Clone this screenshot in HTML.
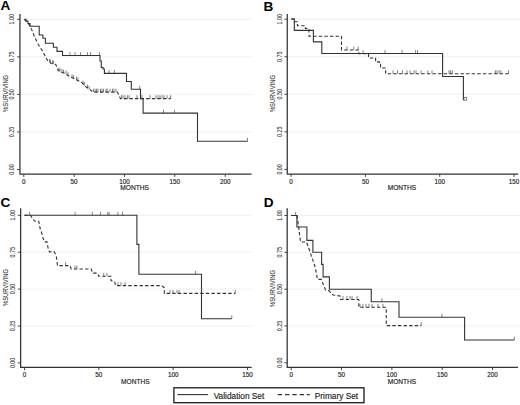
<!DOCTYPE html>
<html><head><meta charset="utf-8"><style>
html,body{margin:0;padding:0;background:#fff;width:520px;height:405px;overflow:hidden}
svg{display:block;font-family:"Liberation Sans",sans-serif}
.t{fill:#222;stroke:#222;stroke-width:0.15px}
</style></head><body>
<svg width="520" height="405" viewBox="0 0 520 405">
<rect width="520" height="405" fill="#fff"/>
<line x1="20.55" y1="19.3" x2="252" y2="19.3" stroke="#ececec" stroke-width="0.8"/>
<line x1="20.55" y1="56.85" x2="252" y2="56.85" stroke="#ececec" stroke-width="0.8"/>
<line x1="20.55" y1="94.4" x2="252" y2="94.4" stroke="#ececec" stroke-width="0.8"/>
<line x1="20.55" y1="131.95" x2="252" y2="131.95" stroke="#ececec" stroke-width="0.8"/>
<path d="M19.95,14.1 V174.2 H251.5" fill="none" stroke="#333" stroke-width="1.25"/>
<line x1="17.15" y1="19.3" x2="19.95" y2="19.3" stroke="#333" stroke-width="0.9"/>
<text transform="translate(14.4,19.3) rotate(-90)" text-anchor="middle" font-size="6.6" textLength="10.4" lengthAdjust="spacingAndGlyphs" class="t" style="stroke-width:0">1.00</text>
<line x1="17.15" y1="56.85" x2="19.95" y2="56.85" stroke="#333" stroke-width="0.9"/>
<text transform="translate(14.4,56.85) rotate(-90)" text-anchor="middle" font-size="6.6" textLength="10.4" lengthAdjust="spacingAndGlyphs" class="t" style="stroke-width:0">0.75</text>
<line x1="17.15" y1="94.4" x2="19.95" y2="94.4" stroke="#333" stroke-width="0.9"/>
<text transform="translate(14.4,94.4) rotate(-90)" text-anchor="middle" font-size="6.6" textLength="10.4" lengthAdjust="spacingAndGlyphs" class="t" style="stroke-width:0">0.50</text>
<line x1="17.15" y1="131.95" x2="19.95" y2="131.95" stroke="#333" stroke-width="0.9"/>
<text transform="translate(14.4,131.95) rotate(-90)" text-anchor="middle" font-size="6.6" textLength="10.4" lengthAdjust="spacingAndGlyphs" class="t" style="stroke-width:0">0.25</text>
<line x1="17.15" y1="169.5" x2="19.95" y2="169.5" stroke="#333" stroke-width="0.9"/>
<text transform="translate(14.4,169.5) rotate(-90)" text-anchor="middle" font-size="6.6" textLength="10.4" lengthAdjust="spacingAndGlyphs" class="t" style="stroke-width:0">0.00</text>
<line x1="23.75" y1="174.2" x2="23.75" y2="176.9" stroke="#333" stroke-width="0.9"/>
<text x="23.75" y="183.8" text-anchor="middle" font-size="6.3" class="t">0</text>
<line x1="74.11" y1="174.2" x2="74.11" y2="176.9" stroke="#333" stroke-width="0.9"/>
<text x="74.11" y="183.8" text-anchor="middle" font-size="6.3" class="t">50</text>
<line x1="124.47" y1="174.2" x2="124.47" y2="176.9" stroke="#333" stroke-width="0.9"/>
<text x="124.47" y="183.8" text-anchor="middle" font-size="6.3" class="t">100</text>
<line x1="174.83" y1="174.2" x2="174.83" y2="176.9" stroke="#333" stroke-width="0.9"/>
<text x="174.83" y="183.8" text-anchor="middle" font-size="6.3" class="t">150</text>
<line x1="225.19" y1="174.2" x2="225.19" y2="176.9" stroke="#333" stroke-width="0.9"/>
<text x="225.19" y="183.8" text-anchor="middle" font-size="6.3" class="t">200</text>
<text transform="translate(7.6,93.4) rotate(-90)" text-anchor="middle" font-size="6.3" textLength="37.0" lengthAdjust="spacingAndGlyphs" class="t" style="stroke-width:0.05px">%SURVIVING</text>
<text x="134.6" y="190.1" text-anchor="middle" font-size="6.5" textLength="28.5" lengthAdjust="spacingAndGlyphs" class="t">MONTHS</text>
<text x="0.4" y="10.1" font-size="13.6" font-weight="bold" fill="#000">A</text>
<line x1="49.5" y1="62.3" x2="49.5" y2="58.9" stroke="#5a5a5a" stroke-width="0.75"/>
<line x1="50.5" y1="63" x2="50.5" y2="59.6" stroke="#5a5a5a" stroke-width="0.75"/>
<line x1="52.5" y1="63.8" x2="52.5" y2="60.4" stroke="#5a5a5a" stroke-width="0.75"/>
<line x1="53.5" y1="64" x2="53.5" y2="60.6" stroke="#5a5a5a" stroke-width="0.75"/>
<line x1="59" y1="71" x2="59" y2="67.6" stroke="#5a5a5a" stroke-width="0.75"/>
<line x1="60" y1="71.7" x2="60" y2="68.3" stroke="#5a5a5a" stroke-width="0.75"/>
<line x1="62" y1="72.5" x2="62" y2="69.1" stroke="#5a5a5a" stroke-width="0.75"/>
<line x1="63.5" y1="73" x2="63.5" y2="69.6" stroke="#5a5a5a" stroke-width="0.75"/>
<line x1="66" y1="74" x2="66" y2="70.6" stroke="#5a5a5a" stroke-width="0.75"/>
<line x1="68" y1="75.5" x2="68" y2="72.1" stroke="#5a5a5a" stroke-width="0.75"/>
<line x1="72" y1="77.8" x2="72" y2="74.4" stroke="#5a5a5a" stroke-width="0.75"/>
<line x1="73.5" y1="78.6" x2="73.5" y2="75.2" stroke="#5a5a5a" stroke-width="0.75"/>
<line x1="76.5" y1="80" x2="76.5" y2="76.6" stroke="#5a5a5a" stroke-width="0.75"/>
<line x1="78" y1="80.8" x2="78" y2="77.4" stroke="#5a5a5a" stroke-width="0.75"/>
<line x1="83" y1="84" x2="83" y2="80.6" stroke="#5a5a5a" stroke-width="0.75"/>
<line x1="84.5" y1="85.5" x2="84.5" y2="82.1" stroke="#5a5a5a" stroke-width="0.75"/>
<line x1="87.5" y1="88" x2="87.5" y2="84.6" stroke="#5a5a5a" stroke-width="0.75"/>
<line x1="89" y1="89.3" x2="89" y2="85.9" stroke="#5a5a5a" stroke-width="0.75"/>
<line x1="93.5" y1="92.1" x2="93.5" y2="88.7" stroke="#5a5a5a" stroke-width="0.75"/>
<line x1="95" y1="92.1" x2="95" y2="88.7" stroke="#5a5a5a" stroke-width="0.75"/>
<line x1="96.5" y1="92.1" x2="96.5" y2="88.7" stroke="#5a5a5a" stroke-width="0.75"/>
<line x1="98" y1="92.1" x2="98" y2="88.7" stroke="#5a5a5a" stroke-width="0.75"/>
<line x1="100.5" y1="92.1" x2="100.5" y2="88.7" stroke="#5a5a5a" stroke-width="0.75"/>
<line x1="102" y1="92.1" x2="102" y2="88.7" stroke="#5a5a5a" stroke-width="0.75"/>
<line x1="103.5" y1="92.1" x2="103.5" y2="88.7" stroke="#5a5a5a" stroke-width="0.75"/>
<line x1="106" y1="92.1" x2="106" y2="88.7" stroke="#5a5a5a" stroke-width="0.75"/>
<line x1="107.2" y1="92.1" x2="107.2" y2="88.7" stroke="#5a5a5a" stroke-width="0.75"/>
<line x1="110" y1="92.1" x2="110" y2="88.7" stroke="#5a5a5a" stroke-width="0.75"/>
<line x1="112.5" y1="92.1" x2="112.5" y2="88.7" stroke="#5a5a5a" stroke-width="0.75"/>
<line x1="114" y1="92.1" x2="114" y2="88.7" stroke="#5a5a5a" stroke-width="0.75"/>
<line x1="116" y1="92.1" x2="116" y2="88.7" stroke="#5a5a5a" stroke-width="0.75"/>
<line x1="121.5" y1="98.6" x2="121.5" y2="95.2" stroke="#5a5a5a" stroke-width="0.75"/>
<line x1="123" y1="98.6" x2="123" y2="95.2" stroke="#5a5a5a" stroke-width="0.75"/>
<line x1="125" y1="98.6" x2="125" y2="95.2" stroke="#5a5a5a" stroke-width="0.75"/>
<line x1="127.5" y1="98.6" x2="127.5" y2="95.2" stroke="#5a5a5a" stroke-width="0.75"/>
<line x1="129" y1="98.6" x2="129" y2="95.2" stroke="#5a5a5a" stroke-width="0.75"/>
<line x1="137" y1="98.6" x2="137" y2="95.2" stroke="#5a5a5a" stroke-width="0.75"/>
<line x1="142" y1="98.6" x2="142" y2="95.2" stroke="#5a5a5a" stroke-width="0.75"/>
<line x1="150" y1="98.6" x2="150" y2="95.2" stroke="#5a5a5a" stroke-width="0.75"/>
<line x1="156" y1="98.6" x2="156" y2="95.2" stroke="#5a5a5a" stroke-width="0.75"/>
<line x1="158" y1="98.6" x2="158" y2="95.2" stroke="#5a5a5a" stroke-width="0.75"/>
<line x1="160" y1="98.6" x2="160" y2="95.2" stroke="#5a5a5a" stroke-width="0.75"/>
<line x1="162" y1="98.6" x2="162" y2="95.2" stroke="#5a5a5a" stroke-width="0.75"/>
<line x1="164" y1="98.6" x2="164" y2="95.2" stroke="#5a5a5a" stroke-width="0.75"/>
<line x1="167" y1="98.6" x2="167" y2="95.2" stroke="#5a5a5a" stroke-width="0.75"/>
<line x1="170.6" y1="98.6" x2="170.6" y2="95.2" stroke="#5a5a5a" stroke-width="0.75"/>
<line x1="70" y1="55.5" x2="70" y2="52.1" stroke="#5a5a5a" stroke-width="0.75"/>
<line x1="75" y1="55.5" x2="75" y2="52.1" stroke="#5a5a5a" stroke-width="0.75"/>
<line x1="80.6" y1="55.5" x2="80.6" y2="52.1" stroke="#5a5a5a" stroke-width="0.75"/>
<line x1="87.5" y1="55.5" x2="87.5" y2="52.1" stroke="#5a5a5a" stroke-width="0.75"/>
<line x1="90.6" y1="55.5" x2="90.6" y2="52.1" stroke="#5a5a5a" stroke-width="0.75"/>
<line x1="99.4" y1="55.5" x2="99.4" y2="52.1" stroke="#5a5a5a" stroke-width="0.75"/>
<line x1="109" y1="73.4" x2="109" y2="70" stroke="#5a5a5a" stroke-width="0.75"/>
<line x1="114.4" y1="73.4" x2="114.4" y2="70" stroke="#5a5a5a" stroke-width="0.75"/>
<line x1="139.75" y1="89.3" x2="139.75" y2="85.9" stroke="#5a5a5a" stroke-width="0.75"/>
<line x1="163.5" y1="113.1" x2="163.5" y2="109.7" stroke="#5a5a5a" stroke-width="0.75"/>
<line x1="174.4" y1="113.1" x2="174.4" y2="109.7" stroke="#5a5a5a" stroke-width="0.75"/>
<line x1="247.5" y1="141.3" x2="247.5" y2="137.9" stroke="#5a5a5a" stroke-width="0.75"/>
<path d="M24.3,19.3 L26,21 L28,23.5 L29.9,25.6 L32.5,31.5 L34.8,37.3 L38.5,44.8 L42.8,51.5 L45.9,57.7 L48.1,61.2 L51.2,63.5 L55.8,64.4 L58.1,70.4 L60.4,71.9 L65,73.5 L69.6,76.5 L75.8,79.6 L81.9,82.7 L86.5,87.3 L91.2,90.4 L92.7,92.1 H117.3 L118.8,95 L120.4,98.6 H170.6" fill="none" stroke="#333" stroke-width="1.1" stroke-dasharray="3.4,2.2"/>
<path d="M24.3,19.3 H26 V21 H28 V23.5 H30 V26.3 H39.2 V35 H42.9 V38.2 H45.4 V43.3 H53.4 V47.3 H57 V51.4 H62.5 V55.5 H100 V61 H101.3 V67.5 H103 V69 H104.4 V73.4 H126.5 V81.5 H131.3 V89.3 H140.5 V98.7 H143.1 V113.1 H197.5 V141.3 H247.5" fill="none" stroke="#333" stroke-width="1.1"/>

<line x1="287.85" y1="19.2" x2="520" y2="19.2" stroke="#ececec" stroke-width="0.8"/>
<line x1="287.85" y1="56.75" x2="520" y2="56.75" stroke="#ececec" stroke-width="0.8"/>
<line x1="287.85" y1="94.3" x2="520" y2="94.3" stroke="#ececec" stroke-width="0.8"/>
<line x1="287.85" y1="131.85" x2="520" y2="131.85" stroke="#ececec" stroke-width="0.8"/>
<path d="M287.25,14.1 V174.2 H518.3" fill="none" stroke="#333" stroke-width="1.25"/>
<line x1="284.45" y1="19.2" x2="287.25" y2="19.2" stroke="#333" stroke-width="0.9"/>
<text transform="translate(282,19.2) rotate(-90)" text-anchor="middle" font-size="6.6" textLength="10.4" lengthAdjust="spacingAndGlyphs" class="t" style="stroke-width:0">1.00</text>
<line x1="284.45" y1="56.75" x2="287.25" y2="56.75" stroke="#333" stroke-width="0.9"/>
<text transform="translate(282,56.75) rotate(-90)" text-anchor="middle" font-size="6.6" textLength="10.4" lengthAdjust="spacingAndGlyphs" class="t" style="stroke-width:0">0.75</text>
<line x1="284.45" y1="94.3" x2="287.25" y2="94.3" stroke="#333" stroke-width="0.9"/>
<text transform="translate(282,94.3) rotate(-90)" text-anchor="middle" font-size="6.6" textLength="10.4" lengthAdjust="spacingAndGlyphs" class="t" style="stroke-width:0">0.50</text>
<line x1="284.45" y1="131.85" x2="287.25" y2="131.85" stroke="#333" stroke-width="0.9"/>
<text transform="translate(282,131.85) rotate(-90)" text-anchor="middle" font-size="6.6" textLength="10.4" lengthAdjust="spacingAndGlyphs" class="t" style="stroke-width:0">0.25</text>
<line x1="284.45" y1="169.4" x2="287.25" y2="169.4" stroke="#333" stroke-width="0.9"/>
<text transform="translate(282,169.4) rotate(-90)" text-anchor="middle" font-size="6.6" textLength="10.4" lengthAdjust="spacingAndGlyphs" class="t" style="stroke-width:0">0.00</text>
<line x1="291.1" y1="174.2" x2="291.1" y2="176.9" stroke="#333" stroke-width="0.9"/>
<text x="291.1" y="183.8" text-anchor="middle" font-size="6.3" class="t">0</text>
<line x1="365.41" y1="174.2" x2="365.41" y2="176.9" stroke="#333" stroke-width="0.9"/>
<text x="365.41" y="183.8" text-anchor="middle" font-size="6.3" class="t">50</text>
<line x1="439.72" y1="174.2" x2="439.72" y2="176.9" stroke="#333" stroke-width="0.9"/>
<text x="439.72" y="183.8" text-anchor="middle" font-size="6.3" class="t">100</text>
<line x1="514.03" y1="174.2" x2="514.03" y2="176.9" stroke="#333" stroke-width="0.9"/>
<text x="514.03" y="183.8" text-anchor="middle" font-size="6.3" class="t">150</text>
<text transform="translate(274.7,93.6) rotate(-90)" text-anchor="middle" font-size="6.3" textLength="37.0" lengthAdjust="spacingAndGlyphs" class="t" style="stroke-width:0.05px">%SURVIVING</text>
<text x="402" y="190.1" text-anchor="middle" font-size="6.5" textLength="28.5" lengthAdjust="spacingAndGlyphs" class="t">MONTHS</text>
<text x="263.6" y="10.5" font-size="13.6" font-weight="bold" fill="#000">B</text>
<line x1="346.9" y1="50" x2="346.9" y2="46.6" stroke="#5a5a5a" stroke-width="0.75"/>
<line x1="353.75" y1="50" x2="353.75" y2="46.6" stroke="#5a5a5a" stroke-width="0.75"/>
<line x1="358.1" y1="50" x2="358.1" y2="46.6" stroke="#5a5a5a" stroke-width="0.75"/>
<line x1="363" y1="53.7" x2="363" y2="50.3" stroke="#5a5a5a" stroke-width="0.75"/>
<line x1="393" y1="73.7" x2="393" y2="70.3" stroke="#5a5a5a" stroke-width="0.75"/>
<line x1="397.5" y1="73.7" x2="397.5" y2="70.3" stroke="#5a5a5a" stroke-width="0.75"/>
<line x1="402.5" y1="73.7" x2="402.5" y2="70.3" stroke="#5a5a5a" stroke-width="0.75"/>
<line x1="407" y1="73.7" x2="407" y2="70.3" stroke="#5a5a5a" stroke-width="0.75"/>
<line x1="410" y1="73.7" x2="410" y2="70.3" stroke="#5a5a5a" stroke-width="0.75"/>
<line x1="414" y1="73.7" x2="414" y2="70.3" stroke="#5a5a5a" stroke-width="0.75"/>
<line x1="416" y1="73.7" x2="416" y2="70.3" stroke="#5a5a5a" stroke-width="0.75"/>
<line x1="421" y1="73.7" x2="421" y2="70.3" stroke="#5a5a5a" stroke-width="0.75"/>
<line x1="428" y1="73.7" x2="428" y2="70.3" stroke="#5a5a5a" stroke-width="0.75"/>
<line x1="432" y1="73.7" x2="432" y2="70.3" stroke="#5a5a5a" stroke-width="0.75"/>
<line x1="449" y1="73.7" x2="449" y2="70.3" stroke="#5a5a5a" stroke-width="0.75"/>
<line x1="450.5" y1="73.7" x2="450.5" y2="70.3" stroke="#5a5a5a" stroke-width="0.75"/>
<line x1="452.3" y1="73.7" x2="452.3" y2="70.3" stroke="#5a5a5a" stroke-width="0.75"/>
<line x1="495.4" y1="73.7" x2="495.4" y2="70.3" stroke="#5a5a5a" stroke-width="0.75"/>
<line x1="497" y1="73.7" x2="497" y2="70.3" stroke="#5a5a5a" stroke-width="0.75"/>
<line x1="499" y1="73.7" x2="499" y2="70.3" stroke="#5a5a5a" stroke-width="0.75"/>
<line x1="500.8" y1="73.7" x2="500.8" y2="70.3" stroke="#5a5a5a" stroke-width="0.75"/>
<line x1="508.5" y1="73.7" x2="508.5" y2="70.3" stroke="#5a5a5a" stroke-width="0.75"/>
<line x1="385" y1="53.5" x2="385" y2="50.1" stroke="#5a5a5a" stroke-width="0.75"/>
<line x1="402.1" y1="53.5" x2="402.1" y2="50.1" stroke="#5a5a5a" stroke-width="0.75"/>
<line x1="415.6" y1="53.5" x2="415.6" y2="50.1" stroke="#5a5a5a" stroke-width="0.75"/>
<line x1="417.5" y1="53.5" x2="417.5" y2="50.1" stroke="#5a5a5a" stroke-width="0.75"/>
<path d="M291.2,19 H294.3 V21.7 H297.4 V25.8 H305.4 V28.5 H309 V36.2 H341.5 V50 H358.8 V53.7 H368.5 V58 H375.6 V61.9 H379.4 V64.4 H380.6 V68 H385.6 V73.7 H508.5" fill="none" stroke="#333" stroke-width="1.1" stroke-dasharray="3.4,2.2"/>
<path d="M291.2,19 H294.3 V30.4 H313.4 V41.9 H321.8 V53.5 H442.6 V76.5 H463.4 V100.2" fill="none" stroke="#333" stroke-width="1.1"/>
<rect x="464" y="97.3" width="2.8" height="2.9" fill="none" stroke="#555" stroke-width="0.7"/>
<line x1="21.25" y1="215.3" x2="252" y2="215.3" stroke="#ececec" stroke-width="0.8"/>
<line x1="21.25" y1="252.2" x2="252" y2="252.2" stroke="#ececec" stroke-width="0.8"/>
<line x1="21.25" y1="289.1" x2="252" y2="289.1" stroke="#ececec" stroke-width="0.8"/>
<line x1="21.25" y1="326" x2="252" y2="326" stroke="#ececec" stroke-width="0.8"/>
<path d="M20.65,208.2 V367.4 H251.7" fill="none" stroke="#333" stroke-width="1.25"/>
<line x1="17.85" y1="215.3" x2="20.65" y2="215.3" stroke="#333" stroke-width="0.9"/>
<text transform="translate(15.1,215.3) rotate(-90)" text-anchor="middle" font-size="6.6" textLength="10.4" lengthAdjust="spacingAndGlyphs" class="t" style="stroke-width:0">1.00</text>
<line x1="17.85" y1="252.2" x2="20.65" y2="252.2" stroke="#333" stroke-width="0.9"/>
<text transform="translate(15.1,252.2) rotate(-90)" text-anchor="middle" font-size="6.6" textLength="10.4" lengthAdjust="spacingAndGlyphs" class="t" style="stroke-width:0">0.75</text>
<line x1="17.85" y1="289.1" x2="20.65" y2="289.1" stroke="#333" stroke-width="0.9"/>
<text transform="translate(15.1,289.1) rotate(-90)" text-anchor="middle" font-size="6.6" textLength="10.4" lengthAdjust="spacingAndGlyphs" class="t" style="stroke-width:0">0.50</text>
<line x1="17.85" y1="326" x2="20.65" y2="326" stroke="#333" stroke-width="0.9"/>
<text transform="translate(15.1,326) rotate(-90)" text-anchor="middle" font-size="6.6" textLength="10.4" lengthAdjust="spacingAndGlyphs" class="t" style="stroke-width:0">0.25</text>
<line x1="17.85" y1="362.9" x2="20.65" y2="362.9" stroke="#333" stroke-width="0.9"/>
<text transform="translate(15.1,362.9) rotate(-90)" text-anchor="middle" font-size="6.6" textLength="10.4" lengthAdjust="spacingAndGlyphs" class="t" style="stroke-width:0">0.00</text>
<line x1="24.5" y1="367.4" x2="24.5" y2="370.1" stroke="#333" stroke-width="0.9"/>
<text x="24.5" y="377.3" text-anchor="middle" font-size="6.3" class="t">0</text>
<line x1="98.82" y1="367.4" x2="98.82" y2="370.1" stroke="#333" stroke-width="0.9"/>
<text x="98.82" y="377.3" text-anchor="middle" font-size="6.3" class="t">50</text>
<line x1="173.14" y1="367.4" x2="173.14" y2="370.1" stroke="#333" stroke-width="0.9"/>
<text x="173.14" y="377.3" text-anchor="middle" font-size="6.3" class="t">100</text>
<line x1="247.46" y1="367.4" x2="247.46" y2="370.1" stroke="#333" stroke-width="0.9"/>
<text x="247.46" y="377.3" text-anchor="middle" font-size="6.3" class="t">150</text>
<text transform="translate(7.9,287.5) rotate(-90)" text-anchor="middle" font-size="6.3" textLength="37.0" lengthAdjust="spacingAndGlyphs" class="t" style="stroke-width:0.05px">%SURVIVING</text>
<text x="135.3" y="383.7" text-anchor="middle" font-size="6.5" textLength="28.5" lengthAdjust="spacingAndGlyphs" class="t">MONTHS</text>
<text x="0.6" y="206.7" font-size="13.6" font-weight="bold" fill="#000">C</text>
<line x1="65.6" y1="265.6" x2="65.6" y2="262.2" stroke="#5a5a5a" stroke-width="0.75"/>
<line x1="75" y1="269" x2="75" y2="265.6" stroke="#5a5a5a" stroke-width="0.75"/>
<line x1="76.9" y1="269" x2="76.9" y2="265.6" stroke="#5a5a5a" stroke-width="0.75"/>
<line x1="103.75" y1="276.25" x2="103.75" y2="272.85" stroke="#5a5a5a" stroke-width="0.75"/>
<line x1="106.9" y1="276.25" x2="106.9" y2="272.85" stroke="#5a5a5a" stroke-width="0.75"/>
<line x1="118" y1="285.6" x2="118" y2="282.2" stroke="#5a5a5a" stroke-width="0.75"/>
<line x1="121" y1="285.6" x2="121" y2="282.2" stroke="#5a5a5a" stroke-width="0.75"/>
<line x1="125" y1="285.6" x2="125" y2="282.2" stroke="#5a5a5a" stroke-width="0.75"/>
<line x1="170" y1="293.4" x2="170" y2="290" stroke="#5a5a5a" stroke-width="0.75"/>
<line x1="173" y1="293.4" x2="173" y2="290" stroke="#5a5a5a" stroke-width="0.75"/>
<line x1="177" y1="293.4" x2="177" y2="290" stroke="#5a5a5a" stroke-width="0.75"/>
<line x1="179" y1="293.4" x2="179" y2="290" stroke="#5a5a5a" stroke-width="0.75"/>
<line x1="235.3" y1="293.4" x2="235.3" y2="290" stroke="#5a5a5a" stroke-width="0.75"/>
<line x1="29.4" y1="215.3" x2="29.4" y2="211.9" stroke="#5a5a5a" stroke-width="0.75"/>
<line x1="75.1" y1="215.3" x2="75.1" y2="211.9" stroke="#5a5a5a" stroke-width="0.75"/>
<line x1="92.3" y1="215.3" x2="92.3" y2="211.9" stroke="#5a5a5a" stroke-width="0.75"/>
<line x1="100.4" y1="215.3" x2="100.4" y2="211.9" stroke="#5a5a5a" stroke-width="0.75"/>
<line x1="107.8" y1="215.3" x2="107.8" y2="211.9" stroke="#5a5a5a" stroke-width="0.75"/>
<line x1="109.1" y1="215.3" x2="109.1" y2="211.9" stroke="#5a5a5a" stroke-width="0.75"/>
<line x1="117.9" y1="215.3" x2="117.9" y2="211.9" stroke="#5a5a5a" stroke-width="0.75"/>
<line x1="122.6" y1="215.3" x2="122.6" y2="211.9" stroke="#5a5a5a" stroke-width="0.75"/>
<line x1="195.5" y1="274.2" x2="195.5" y2="270.8" stroke="#5a5a5a" stroke-width="0.75"/>
<line x1="231.8" y1="318.8" x2="231.8" y2="315.4" stroke="#5a5a5a" stroke-width="0.75"/>
<path d="M24.4,215.3 H30.6 L32.5,218.8 L35,221.3 H38.75 L40,228 L41.9,233.75 L43.1,238.1 L44.4,241.9 H46.9 L48.1,248.1 L49.4,251.9 H54.4 L56.25,256.25 L56.9,260.6 L57.5,265.6 H70 L71.25,269 H91.25 L92.5,273.1 H97.5 L98.75,276.25 H111 V280.6 L114.75,281.9 L115.5,285.6 H161.7 L164.3,287.7 V293.4 H235.3" fill="none" stroke="#333" stroke-width="1.1" stroke-dasharray="3.4,2.2"/>
<path d="M24.4,215.3 H136.9 V244.4 H138.9 V274.2 H201.5 V318.8 H231.8" fill="none" stroke="#333" stroke-width="1.1"/>

<line x1="287.8" y1="215.5" x2="520" y2="215.5" stroke="#ececec" stroke-width="0.8"/>
<line x1="287.8" y1="252.32" x2="520" y2="252.32" stroke="#ececec" stroke-width="0.8"/>
<line x1="287.8" y1="289.15" x2="520" y2="289.15" stroke="#ececec" stroke-width="0.8"/>
<line x1="287.8" y1="325.98" x2="520" y2="325.98" stroke="#ececec" stroke-width="0.8"/>
<path d="M287.2,208.2 V367.4 H518" fill="none" stroke="#333" stroke-width="1.25"/>
<line x1="284.4" y1="215.5" x2="287.2" y2="215.5" stroke="#333" stroke-width="0.9"/>
<text transform="translate(282,215.5) rotate(-90)" text-anchor="middle" font-size="6.6" textLength="10.4" lengthAdjust="spacingAndGlyphs" class="t" style="stroke-width:0">1.00</text>
<line x1="284.4" y1="252.32" x2="287.2" y2="252.32" stroke="#333" stroke-width="0.9"/>
<text transform="translate(282,252.32) rotate(-90)" text-anchor="middle" font-size="6.6" textLength="10.4" lengthAdjust="spacingAndGlyphs" class="t" style="stroke-width:0">0.75</text>
<line x1="284.4" y1="289.15" x2="287.2" y2="289.15" stroke="#333" stroke-width="0.9"/>
<text transform="translate(282,289.15) rotate(-90)" text-anchor="middle" font-size="6.6" textLength="10.4" lengthAdjust="spacingAndGlyphs" class="t" style="stroke-width:0">0.50</text>
<line x1="284.4" y1="325.98" x2="287.2" y2="325.98" stroke="#333" stroke-width="0.9"/>
<text transform="translate(282,325.98) rotate(-90)" text-anchor="middle" font-size="6.6" textLength="10.4" lengthAdjust="spacingAndGlyphs" class="t" style="stroke-width:0">0.25</text>
<line x1="284.4" y1="362.8" x2="287.2" y2="362.8" stroke="#333" stroke-width="0.9"/>
<text transform="translate(282,362.8) rotate(-90)" text-anchor="middle" font-size="6.6" textLength="10.4" lengthAdjust="spacingAndGlyphs" class="t" style="stroke-width:0">0.00</text>
<line x1="291.25" y1="367.4" x2="291.25" y2="370.1" stroke="#333" stroke-width="0.9"/>
<text x="291.25" y="377.3" text-anchor="middle" font-size="6.3" class="t">0</text>
<line x1="341.56" y1="367.4" x2="341.56" y2="370.1" stroke="#333" stroke-width="0.9"/>
<text x="341.56" y="377.3" text-anchor="middle" font-size="6.3" class="t">50</text>
<line x1="391.88" y1="367.4" x2="391.88" y2="370.1" stroke="#333" stroke-width="0.9"/>
<text x="391.88" y="377.3" text-anchor="middle" font-size="6.3" class="t">100</text>
<line x1="442.19" y1="367.4" x2="442.19" y2="370.1" stroke="#333" stroke-width="0.9"/>
<text x="442.19" y="377.3" text-anchor="middle" font-size="6.3" class="t">150</text>
<line x1="492.51" y1="367.4" x2="492.51" y2="370.1" stroke="#333" stroke-width="0.9"/>
<text x="492.51" y="377.3" text-anchor="middle" font-size="6.3" class="t">200</text>
<text transform="translate(274.9,288.5) rotate(-90)" text-anchor="middle" font-size="6.3" textLength="37.0" lengthAdjust="spacingAndGlyphs" class="t" style="stroke-width:0.05px">%SURVIVING</text>
<text x="402" y="383.7" text-anchor="middle" font-size="6.5" textLength="28.5" lengthAdjust="spacingAndGlyphs" class="t">MONTHS</text>
<text x="263.7" y="206.7" font-size="13.6" font-weight="bold" fill="#000">D</text>
<line x1="343" y1="299.5" x2="343" y2="296.1" stroke="#5a5a5a" stroke-width="0.75"/>
<line x1="347" y1="299.5" x2="347" y2="296.1" stroke="#5a5a5a" stroke-width="0.75"/>
<line x1="350" y1="299.5" x2="350" y2="296.1" stroke="#5a5a5a" stroke-width="0.75"/>
<line x1="352" y1="299.5" x2="352" y2="296.1" stroke="#5a5a5a" stroke-width="0.75"/>
<line x1="357" y1="299.5" x2="357" y2="296.1" stroke="#5a5a5a" stroke-width="0.75"/>
<line x1="360" y1="307.3" x2="360" y2="303.9" stroke="#5a5a5a" stroke-width="0.75"/>
<line x1="363" y1="307.3" x2="363" y2="303.9" stroke="#5a5a5a" stroke-width="0.75"/>
<line x1="366" y1="307.3" x2="366" y2="303.9" stroke="#5a5a5a" stroke-width="0.75"/>
<line x1="369" y1="307.3" x2="369" y2="303.9" stroke="#5a5a5a" stroke-width="0.75"/>
<line x1="372" y1="307.3" x2="372" y2="303.9" stroke="#5a5a5a" stroke-width="0.75"/>
<line x1="378" y1="307.3" x2="378" y2="303.9" stroke="#5a5a5a" stroke-width="0.75"/>
<line x1="383" y1="307.3" x2="383" y2="303.9" stroke="#5a5a5a" stroke-width="0.75"/>
<line x1="421.25" y1="325.6" x2="421.25" y2="322.2" stroke="#5a5a5a" stroke-width="0.75"/>
<line x1="295.6" y1="215.5" x2="295.6" y2="212.1" stroke="#5a5a5a" stroke-width="0.75"/>
<line x1="381.9" y1="301.7" x2="381.9" y2="298.3" stroke="#5a5a5a" stroke-width="0.75"/>
<line x1="441.9" y1="317.2" x2="441.9" y2="313.8" stroke="#5a5a5a" stroke-width="0.75"/>
<line x1="514.3" y1="340" x2="514.3" y2="336.6" stroke="#5a5a5a" stroke-width="0.75"/>
<path d="M291.2,215.5 H296.9 L298.6,226.3 L299.8,236.7 L300.6,242 H306.5 L309.4,250 L315.4,267.8 L317.5,279.4 H321.25 L325.6,290 L328.75,290.6 L333.1,295 L340,296 L340.6,299.5 H358.75 V307.3 H386.25 V325.6 H421.25" fill="none" stroke="#333" stroke-width="1.1" stroke-dasharray="3.4,2.2"/>
<path d="M291.2,215.5 H296.9 V227 H306.9 V240.4 H312.9 V252.2 H321.6 V264.4 H323.1 V276.9 H329.4 V289.2 H371.25 V301.7 H399 V317.2 H464.6 V340 H514.3" fill="none" stroke="#333" stroke-width="1.1"/>

<rect x="173.9" y="387.8" width="190.1" height="14.9" fill="#fff" stroke="#222" stroke-width="1.35"/>
<line x1="177.4" y1="394.6" x2="208.1" y2="394.6" stroke="#333" stroke-width="1.1"/>
<text x="213.7" y="398.5" font-size="8.3" class="t" style="stroke-width:0.15px">Validation Set</text>
<line x1="277.7" y1="394.7" x2="309.8" y2="394.7" stroke="#333" stroke-width="1.2" stroke-dasharray="4.4,2.9"/>
<text x="314.8" y="398.5" font-size="8.3" class="t" style="stroke-width:0.15px">Primary Set</text>
</svg>
</body></html>
